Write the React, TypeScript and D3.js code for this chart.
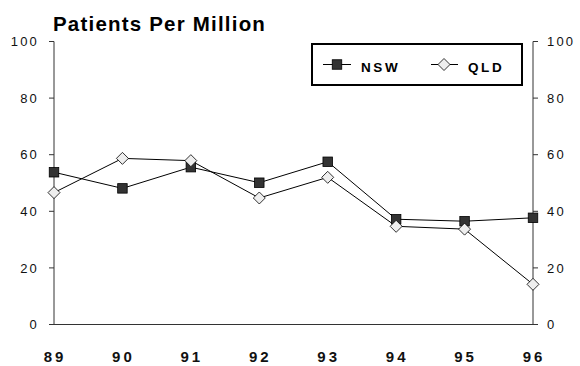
import React from "react";
import * as d3 from "d3";

const categories = ["89", "90", "91", "92", "93", "94", "95", "96"];
const nswValues = [53.8, 48.1, 55.6, 50.1, 57.5, 37.2, 36.5, 37.7];
const qldValues = [46.6, 58.7, 57.9, 44.7, 52.0, 34.7, 33.7, 14.2];
const yTicks = [0, 20, 40, 60, 80, 100];
const seriesNames = ["NSW", "QLD"];

const W = 580;
const H = 366;
const left = 54;
const right = 533;
const top = 41.5;
const bottom = 324.5;

export default function App() {
  const x = d3.scalePoint<string>().domain(categories).range([left, right]);
  const y = d3.scaleLinear().domain([0, 100]).range([bottom, top]);
  const line = d3
    .line<number>()
    .x((_, i) => x(categories[i]) as number)
    .y((d) => y(d));
  const font = "Arial, 'Liberation Sans', sans-serif";
  const sq = 9.5;
  const dm = 6;
  const square = (cx: number, cy: number, k: string) => (
    <rect key={k} x={cx - sq / 2} y={cy - sq / 2} width={sq} height={sq} fill="#333" stroke="#000" strokeWidth={0.8} />
  );
  const diamond = (cx: number, cy: number, k: string) => (
    <path
      key={k}
      d={`M${cx},${cy - dm}L${cx + dm},${cy}L${cx},${cy + dm}L${cx - dm},${cy}Z`}
      fill="#eee"
      stroke="#000"
      strokeWidth={0.8}
    />
  );
  return (
    <svg width={W} height={H} style={{ position: "absolute", left: 0, top: 0 }} fontFamily={font}>
      <rect width={W} height={H} fill="#fff" />
      <text x={53} y={31} fontSize={20.5} fontWeight="bold" letterSpacing={1.2} fill="#000">
        Patients Per Million
      </text>
      {/* axes */}
      <line x1={left} x2={left} y1={top} y2={bottom} stroke="#333" />
      <line x1={right} x2={right} y1={top} y2={bottom} stroke="#333" />
      <line x1={left} x2={right} y1={bottom} y2={bottom} stroke="#333" />
      {yTicks.map((t) => (
        <g key={t}>
          <line x1={left - 5} x2={left} y1={y(t)} y2={y(t)} stroke="#333" />
          <line x1={right} x2={right + 5} y1={y(t)} y2={y(t)} stroke="#333" />
          <text x={left - 15} y={y(t)} dy="0.36em" textAnchor="end" fontSize={13} letterSpacing={2.2} fill="#111">
            {t}
          </text>
          <text x={right + 14} y={y(t)} dy="0.36em" textAnchor="start" fontSize={13} letterSpacing={2.2} fill="#111">
            {t}
          </text>
        </g>
      ))}
      {categories.map((c) => (
        <text
          key={c}
          x={(x(c) as number) + 1}
          y={362}
          textAnchor="middle"
          fontSize={15}
          fontWeight="bold"
          letterSpacing={3}
          fill="#111"
        >
          {c}
        </text>
      ))}
      <path d={line(nswValues) || ""} fill="none" stroke="#000" strokeWidth={1} />
      <path d={line(qldValues) || ""} fill="none" stroke="#000" strokeWidth={1} />
      {nswValues.map((v, i) => square(x(categories[i]) as number, y(v), "n" + i))}
      {qldValues.map((v, i) => diamond(x(categories[i]) as number, y(v), "q" + i))}
      {/* legend */}
      <rect x={312} y={44} width={210} height={41} fill="#fff" stroke="#000" strokeWidth={2} />
      <line x1={323} x2={351} y1={64.5} y2={64.5} stroke="#000" />
      {square(337, 64.5, "ln")}
      <text x={361} y={71.5} fontSize={13.5} fontWeight="bold" letterSpacing={2.6}>
        {seriesNames[0]}
      </text>
      <line x1={431} x2={458} y1={64.5} y2={64.5} stroke="#000" />
      {diamond(444, 64.5, "lq")}
      <text x={468} y={71.5} fontSize={13.5} fontWeight="bold" letterSpacing={2.6}>
        {seriesNames[1]}
      </text>
    </svg>
  );
}
